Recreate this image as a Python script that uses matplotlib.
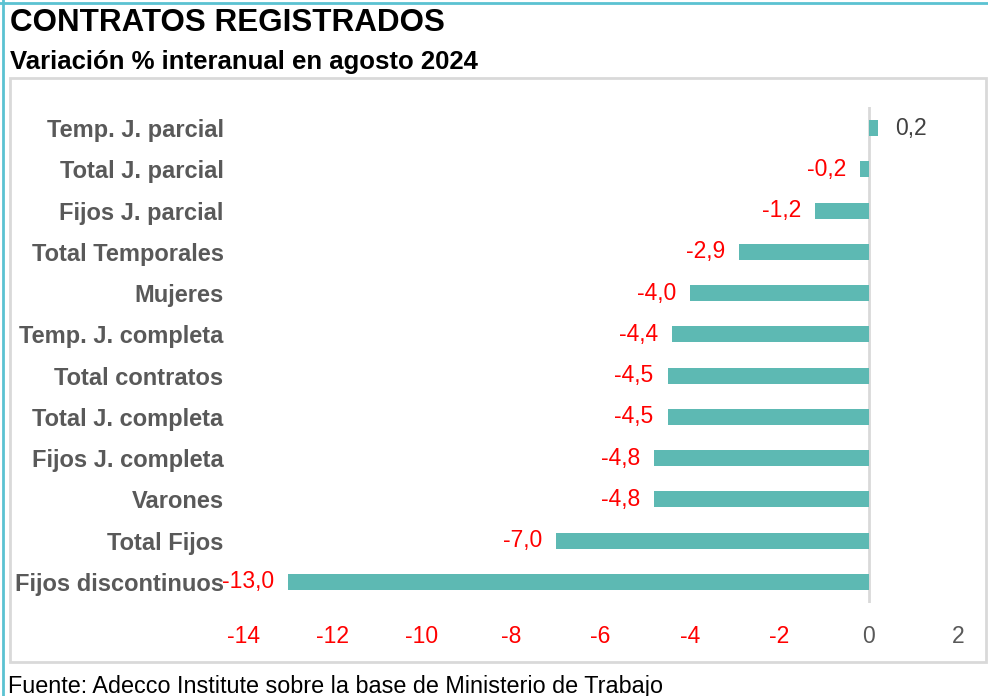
import matplotlib
matplotlib.use("Agg")
import matplotlib.pyplot as plt
from matplotlib.patches import Rectangle
from matplotlib.lines import Line2D

categories = ["Temp. J. parcial", "Total J. parcial", "Fijos J. parcial", "Total Temporales",
              "Mujeres", "Temp. J. completa", "Total contratos", "Total J. completa",
              "Fijos J. completa", "Varones", "Total Fijos", "Fijos discontinuos"]
values = [0.2, -0.2, -1.2, -2.9, -4.0, -4.4, -4.5, -4.5, -4.8, -4.8, -7.0, -13.0]
xticks = [-14, -12, -10, -8, -6, -4, -2, 0, 2]

W, H = 988, 696
fig = plt.figure(figsize=(W / 100, H / 100), dpi=100)
fig.patch.set_facecolor("white")

# outer teal border (top & left) and inner gray box
fig.add_artist(Line2D([0, 1], [1 - 3 / H, 1 - 3 / H], transform=fig.transFigure, color="#5BC2D2", lw=2))
fig.add_artist(Line2D([3 / W, 3 / W], [0, 1], transform=fig.transFigure, color="#5BC2D2", lw=2))
fig.add_artist(Rectangle((10 / W, 1 - 662 / H), (986 - 10) / W, (662 - 78) / H,
                         transform=fig.transFigure, fill=False, edgecolor="#D9D9D9", lw=2))

left, right = 243 / W, 958 / W
top, bottom = 1 - 107.4 / H, 1 - 602.6 / H
ax = fig.add_axes([left, bottom, right - left, top - bottom])
ax.set_facecolor("none")

sans = ["Liberation Sans", "DejaVu Sans"]

y = list(range(len(categories)))
ax.barh(y, values, height=0.39, color="#5DB9B3", zorder=2)
ax.set_xlim(-14, 2)
ax.set_ylim(len(categories) - 0.5, -0.5)
ax.axvline(0, color="#D9D9D9", lw=2, zorder=1)

for s in ax.spines.values():
    s.set_visible(False)
ax.tick_params(length=0)

ax.set_xticks(xticks)
ax.set_xticklabels([str(t) for t in xticks], family=sans, fontsize=16.5)
for lab, t in zip(ax.get_xticklabels(), xticks):
    lab.set_color("#FF0000" if t < 0 else "#595959")
ax.tick_params(axis="x", pad=16)

ax.set_yticks(y)
ax.set_yticklabels(categories, family=sans, fontsize=17,
                   fontweight="bold", color="#595959")
ax.tick_params(axis="y", pad=14)

for yi, v in zip(y, values):
    txt = f"{v:.1f}".replace(".", ",")
    if v < 0:
        ax.annotate(txt, (v, yi), xytext=(-10, 0), textcoords="offset points", ha="right",
                    va="center", color="#FF0000", fontsize=16.5, family=sans)
    else:
        ax.annotate(txt, (v, yi), xytext=(13, 0), textcoords="offset points", ha="left",
                    va="center", color="#404040", fontsize=16.5, family=sans)

fig.text(10 / W, 1 - 23 / H, "CONTRATOS REGISTRADOS", fontsize=22.6, fontweight="bold",
         family=sans, color="black", va="center", ha="left")
fig.text(10 / W, 1 - 62 / H, "Variación % interanual en agosto 2024", fontsize=18.5, fontweight="bold",
         family=sans, color="black", va="center", ha="left")
fig.text(8 / W, 1 - 686 / H, "Fuente: Adecco Institute sobre la base de Ministerio de Trabajo",
         fontsize=16.8, family=sans, color="black", va="center", ha="left")

fig.savefig("out.png", dpi=100)
